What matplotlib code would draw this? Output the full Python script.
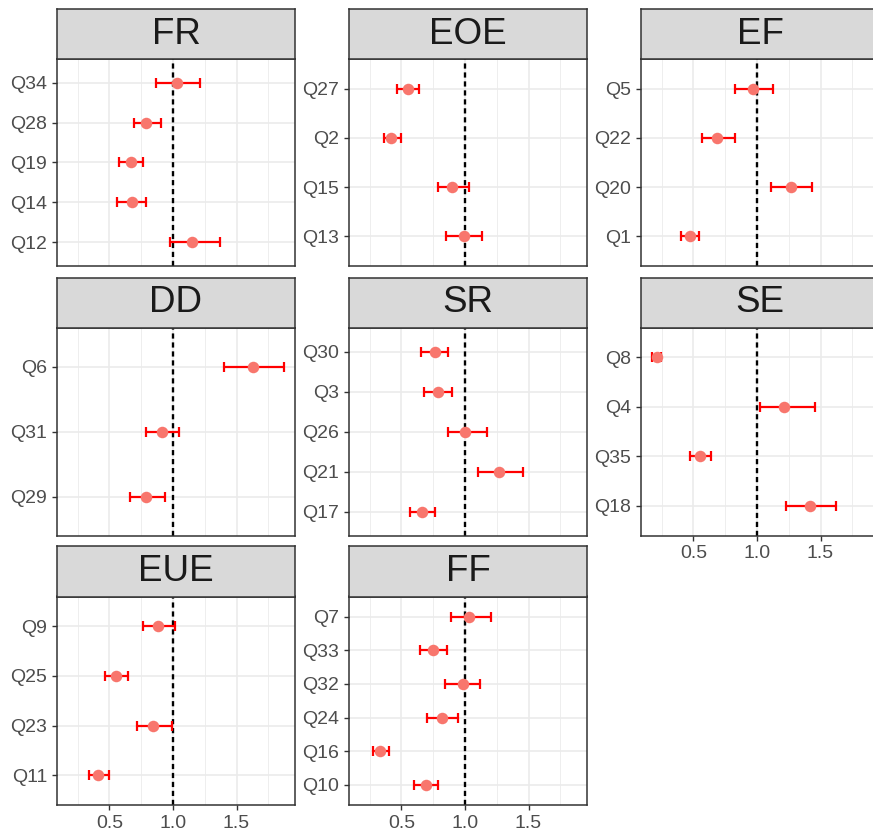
import matplotlib
matplotlib.use("Agg")
import matplotlib.pyplot as plt
from matplotlib.ticker import FixedLocator

plt.rcParams["font.family"] = ["Liberation Sans", "DejaVu Sans"]

# items are listed bottom to top inside each facet
fr_items = ["Q12", "Q14", "Q19", "Q28", "Q34"]
fr_est = [1.15, 0.68, 0.67, 0.79, 1.03]
fr_low = [0.98, 0.56, 0.575, 0.69, 0.865]
fr_high = [1.37, 0.79, 0.765, 0.905, 1.21]

eoe_items = ["Q13", "Q15", "Q2", "Q27"]
eoe_est = [0.99, 0.90, 0.42, 0.55]
eoe_low = [0.85, 0.785, 0.365, 0.465]
eoe_high = [1.135, 1.035, 0.495, 0.64]

ef_items = ["Q1", "Q20", "Q22", "Q5"]
ef_est = [0.47, 1.265, 0.685, 0.97]
ef_low = [0.40, 1.11, 0.565, 0.83]
ef_high = [0.54, 1.435, 0.825, 1.125]

dd_items = ["Q29", "Q31", "Q6"]
dd_est = [0.79, 0.915, 1.63]
dd_low = [0.665, 0.79, 1.405]
dd_high = [0.935, 1.05, 1.875]

sr_items = ["Q17", "Q21", "Q26", "Q3", "Q30"]
sr_est = [0.665, 1.27, 1.0, 0.79, 0.76]
sr_low = [0.57, 1.105, 0.865, 0.68, 0.655]
sr_high = [0.76, 1.46, 1.17, 0.90, 0.87]

se_items = ["Q18", "Q35", "Q4", "Q8"]
se_est = [1.42, 0.55, 1.21, 0.21]
se_low = [1.23, 0.47, 1.025, 0.172]
se_high = [1.625, 0.635, 1.455, 0.245]

eue_items = ["Q11", "Q23", "Q25", "Q9"]
eue_est = [0.41, 0.845, 0.555, 0.885]
eue_low = [0.34, 0.715, 0.465, 0.76]
eue_high = [0.50, 0.99, 0.645, 1.013]

ff_items = ["Q10", "Q16", "Q24", "Q32", "Q33", "Q7"]
ff_est = [0.69, 0.33, 0.82, 0.985, 0.75, 1.035]
ff_low = [0.595, 0.272, 0.70, 0.845, 0.645, 0.893]
ff_high = [0.79, 0.405, 0.945, 1.12, 0.86, 1.205]

facets = {
    "FR": (fr_items, fr_est, fr_low, fr_high),
    "EOE": (eoe_items, eoe_est, eoe_low, eoe_high),
    "EF": (ef_items, ef_est, ef_low, ef_high),
    "DD": (dd_items, dd_est, dd_low, dd_high),
    "SR": (sr_items, sr_est, sr_low, sr_high),
    "SE": (se_items, se_est, se_low, se_high),
    "EUE": (eue_items, eue_est, eue_low, eue_high),
    "FF": (ff_items, ff_est, ff_low, ff_high),
}
x_ticks = [0.5, 1.0, 1.5]
x_minor = [0.25, 0.75, 1.25, 1.75]

W, H = 873, 836
fig = plt.figure(figsize=(W / 100, H / 100), dpi=100)

# panel geometry in pixels
col_left = [57, 349, 641]
panel_w = 238
rows = [(9, 59, 266), (277.5, 327.5, 535.5), (546, 596.5, 805)]
# facets that carry the x axis labels
bottom_facets = {"SE", "EUE", "FF"}

all_low = min(min(v[2]) for v in facets.values())
all_high = max(max(v[3]) for v in facets.values())
pad = 0.05 * (all_high - all_low)
xlim = (all_low - pad, all_high + pad)

border = "#333333"
for i, (name, (items, est, low, high)) in enumerate(facets.items()):
    r, c = divmod(i, 3)
    s_top, s_bot, p_bot = rows[r]
    x0 = col_left[c]

    ax = fig.add_axes([x0 / W, 1 - p_bot / H, panel_w / W, (p_bot - s_bot) / H])
    ax.set_facecolor("white")
    y = list(range(1, len(items) + 1))
    ax.axvline(1.0, color="black", linestyle=(0, (2.2, 1.6)), linewidth=1.7, zorder=2)
    xerr = [[e - lo for e, lo in zip(est, low)], [hi - e for e, hi in zip(est, high)]]
    ax.errorbar(est, y, xerr=xerr, fmt="none", ecolor="#FF0000",
                elinewidth=1.6, capsize=3.5, capthick=1.6, zorder=3)
    ax.plot(est, y, "o", color="#F8766D", markersize=8.3, markeredgewidth=0, zorder=4)

    ax.set_xlim(*xlim)
    ax.set_ylim(0.4, len(items) + 0.6)
    ax.set_yticks(y)
    ax.set_yticklabels(items)
    ax.xaxis.set_major_locator(FixedLocator(x_ticks))
    ax.xaxis.set_minor_locator(FixedLocator(x_minor))
    ax.grid(True, which="major", color="#EBEBEB", linewidth=1.2, zorder=0)
    ax.grid(True, which="minor", axis="x", color="#EBEBEB", linewidth=0.6, zorder=0)
    ax.set_axisbelow(True)
    ax.tick_params(axis="both", which="major", colors=border, length=3.6, width=1.0,
                   labelsize=14, labelcolor="#4D4D4D", pad=3.4)
    ax.tick_params(axis="x", which="minor", length=0)
    if name in bottom_facets:
        ax.set_xticklabels(["0.5", "1.0", "1.5"])
    else:
        ax.tick_params(axis="x", which="major", length=0, labelbottom=False)
    for sp in ax.spines.values():
        sp.set_color(border)
        sp.set_linewidth(1.1)

    # facet strip
    st = fig.add_axes([x0 / W, 1 - s_bot / H, panel_w / W, (s_bot - s_top) / H])
    st.set_facecolor("#D9D9D9")
    st.set_xticks([])
    st.set_yticks([])
    for sp in st.spines.values():
        sp.set_color(border)
        sp.set_linewidth(1.1)
    st.text(0.5, 0.5, name, ha="center", va="center", fontsize=26.5,
            color="#1A1A1A", transform=st.transAxes)

fig.savefig("out.png", dpi=100)
